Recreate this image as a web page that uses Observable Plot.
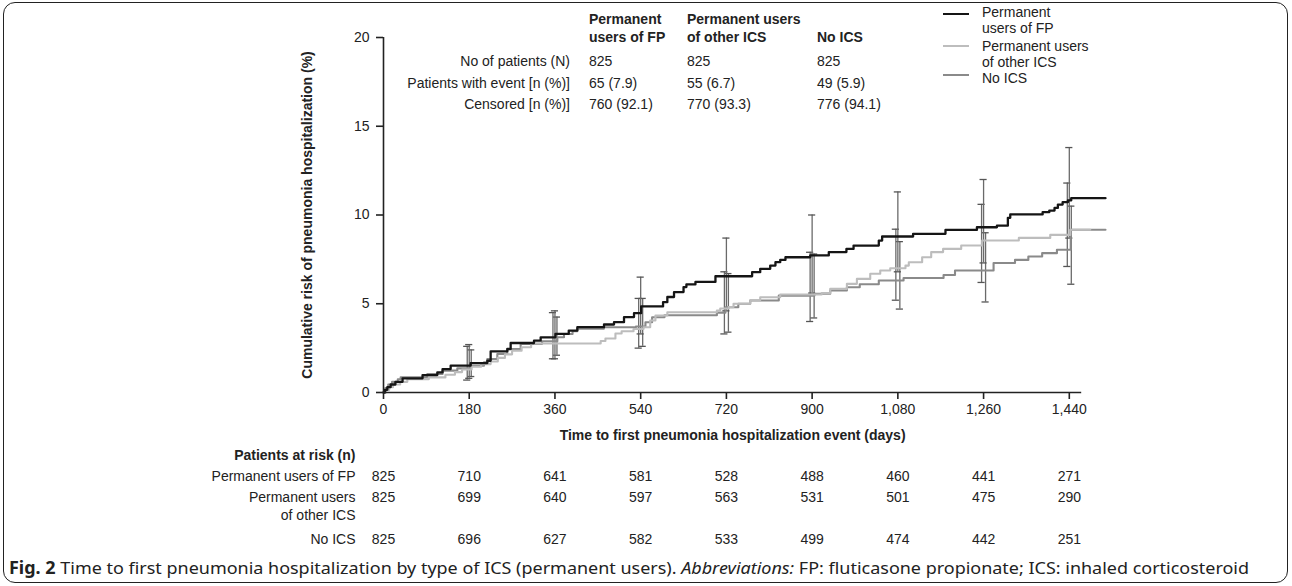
<!DOCTYPE html>
<html><head><meta charset="utf-8">
<script src="https://cdn.jsdelivr.net/npm/d3@7"></script>
<script src="https://cdn.jsdelivr.net/npm/@observablehq/plot@0.6"></script>
<style>
body{margin:0;background:#fff;font-family:"Liberation Sans",Arial,sans-serif;color:#222;}
#wrap{position:relative;width:1292px;height:586px;overflow:hidden;background:#fff;}
#frame{position:absolute;left:3px;top:2px;width:1285px;height:581px;border:1.6px solid #222;border-radius:12px;box-sizing:border-box;}
#chart{position:absolute;left:0;top:0;}
.abs{position:absolute;white-space:nowrap;font-size:14px;line-height:18px;}
.b{font-weight:bold;}
#cap{position:absolute;left:9px;top:556px;font-family:"Noto Sans",sans-serif;font-size:17px;white-space:nowrap;transform-origin:0 0;color:#222;}
.sw{position:absolute;height:0;border-top:2px solid #000;width:26px;}
</style></head><body>
<div id="wrap">
<div id="frame"></div>
<div id="chart"></div>
<div id="toptable"></div>
<div id="legend"></div>
<div id="cap"><b>Fig. 2</b> Time to first pneumonia hospitalization by type of ICS (permanent users). <i>Abbreviations:</i> FP: fluticasone propionate; ICS: inhaled corticosteroid</div>
</div>
<script>
// ---------- data ----------
const groups = ["Permanent users of FP", "Permanent users of other ICS", "No ICS"];
const colors = ["#151515", "#bdbdbd", "#8a8a8a"];
const xTicks = [0, 180, 360, 540, 720, 900, 1080, 1260, 1440];
const yTicks = [0, 5, 10, 15, 20];
const axisEnd = 1466;
const xMax = 1516;

// cumulative risk (%) step points: day of step, value after step
const fpDays = [0,3,8,15,25,40,82,113,124,141,183,218,225,260,267,316,330,361,389,407,463,484,505,526,541,587,596,610,630,636,655,697,774,791,812,823,833,844,896,935,972,987,1040,1047,1112,1180,1246,1288,1311,1316,1384,1398,1409,1416,1426,1437,1444,1516];
const fpRisk = [0,0.15,0.3,0.45,0.6,0.8,0.98,1.13,1.32,1.51,1.66,1.79,2.32,2.45,2.79,2.92,3.11,3.30,3.49,3.68,3.83,3.96,4.25,4.47,4.85,5.09,5.38,5.66,5.94,6.09,6.23,6.55,6.78,6.97,7.15,7.34,7.47,7.62,7.72,7.91,8.09,8.28,8.56,8.79,8.94,9.16,9.31,9.40,9.84,10.03,10.16,10.25,10.40,10.59,10.72,10.82,10.95,10.95];

const otherDays = [0,5,12,20,35,50,95,130,150,165,185,205,225,240,255,270,290,310,456,466,487,500,525,546,560,571,596,700,707,725,735,770,791,833,920,938,973,994,1022,1043,1064,1096,1103,1131,1150,1175,1213,1257,1334,1400,1442,1484];
const otherRisk = [0,0.15,0.3,0.45,0.6,0.75,0.85,1.0,1.15,1.3,1.45,1.6,1.75,1.95,2.15,2.35,2.55,2.76,2.9,3.04,3.32,3.45,3.58,3.68,4.06,4.34,4.52,4.62,4.73,4.81,5.0,5.2,5.37,5.52,5.6,5.84,6.12,6.4,6.69,6.87,7.0,7.15,7.34,7.62,7.91,8.09,8.28,8.56,8.71,8.88,9.17,9.17];

const noDays = [0,4,10,18,30,36,92,124,155,183,211,218,239,260,288,333,365,379,397,407,463,530,550,564,590,700,718,745,770,830,905,938,973,1000,1040,1092,1176,1200,1281,1326,1354,1383,1414,1443,1516];
const noRisk = [0,0.25,0.45,0.6,0.75,0.85,1.04,1.23,1.36,1.51,1.70,1.89,2.17,2.45,2.74,2.89,3.11,3.30,3.45,3.60,3.68,3.72,3.96,4.24,4.35,4.5,4.8,5.0,5.18,5.46,5.56,5.75,5.93,6.1,6.31,6.45,6.62,6.87,7.3,7.47,7.66,7.85,8.04,9.17,9.17];

// 95% CI error bars at each 180-day mark
const ciDays = [180, 360, 540, 720, 900, 1080, 1260, 1440];
const fpLo = [0.8, 1.9, 3.3, 4.6, 5.6, 6.8, 7.3, 8.7];
const fpHi = [2.7, 4.6, 6.5, 8.7, 10.0, 11.3, 12.0, 13.8];
const otherLo = [0.7, 1.9, 2.5, 3.3, 4.0, 5.2, 6.2, 7.1];
const otherHi = [2.6, 4.5, 5.3, 6.8, 7.9, 9.2, 10.6, 11.8];
const noLo = [0.9, 2.1, 2.6, 3.4, 4.2, 4.7, 5.1, 6.1];
const noHi = [2.4, 4.25, 5.3, 6.7, 7.8, 8.5, 9.0, 10.5];

// patients at risk
const fpAtRisk = [825, 710, 641, 581, 528, 488, 460, 441, 271];
const otherAtRisk = [825, 699, 640, 597, 563, 531, 501, 475, 290];
const noAtRisk = [825, 696, 627, 582, 533, 499, 474, 442, 251];
const riskLabels = [["Permanent users of FP"], ["Permanent users", "of other ICS"], ["No ICS"]];

// summary table
const tableHeads = [["Permanent", "users of FP"], ["Permanent users", "of other ICS"], ["", "No ICS"]];
const tableRowLabels = ["No of patients (N)", "Patients with event [n (%)]", "Censored [n (%)]"];
const nPatients = [825, 825, 825];
const eventN = [65, 55, 49];
const eventPct = [7.9, 6.7, 5.9];
const censN = [760, 770, 776];
const censPct = [92.1, 93.3, 94.1];
const legendLabels = [["Permanent", "users of FP"], ["Permanent users", "of other ICS"], ["No ICS"]];

const yTitle = "Cumulative risk of pneumonia hospitalization (%)";
const xTitle = "Time to first pneumonia hospitalization event (days)";
const riskTitle = "Patients at risk (n)";

// ---------- build ----------
const stepSeries = [[fpDays, fpRisk], [otherDays, otherRisk], [noDays, noRisk]];
const lineRows = stepSeries.map(([d, v], g) => d.map((day, i) => ({day, risk: v[i], g})));
const ciSets = [[fpLo, fpHi], [otherLo, otherHi], [noLo, noHi]];
const ciRows = ciSets.map(([lo, hi], g) => ciDays.map((day, i) => ({day, lo: lo[i], hi: hi[i], g})));
const riskSets = [fpAtRisk, otherAtRisk, noAtRisk];
const riskRows = riskSets.map(arr => xTicks.map((day, i) => ({day, n: arr[i]})));
const capHalf = 7.5;
const barDx = [0, -2, 2];
const riskDy = [84, 105, 147];
const riskLineGap = 18;

const W = 1292, H = 550;
const marks = [];
// error bars (behind lines)
[2, 1, 0].forEach(g => {
  marks.push(Plot.ruleX(ciRows[g], {x: "day", y1: "lo", y2: "hi", stroke: "#6a6a6a", strokeWidth: 1.3, dx: barDx[g]}));
  marks.push(Plot.ruleY(ciRows[g], {y: "lo", x1: d => d.day - capHalf, x2: d => d.day + capHalf, stroke: "#555", strokeWidth: 1.3, dx: barDx[g]}));
  marks.push(Plot.ruleY(ciRows[g], {y: "hi", x1: d => d.day - capHalf, x2: d => d.day + capHalf, stroke: "#555", strokeWidth: 1.3, dx: barDx[g]}));
});
// curves
[2, 1, 0].forEach(g => {
  marks.push(Plot.line(lineRows[g], {x: "day", y: "risk", curve: "step-after", stroke: colors[g], strokeWidth: g === 0 ? 2.3 : 2.1}));
});
// axes
marks.push(Plot.ruleY([0], {x1: 0, x2: axisEnd, stroke: "#222", strokeWidth: 1.6}));
marks.push(Plot.ruleX([0], {y1: 0, y2: 20, stroke: "#222", strokeWidth: 1.6}));
marks.push(Plot.axisX(xTicks, {tickSize: 7, tickPadding: 5, tickFormat: d3.format(","), label: null, stroke: "#222", strokeWidth: 1.6, fontSize: 14, fill: "#222"}));
marks.push(Plot.axisY(yTicks, {tickSize: 7, tickPadding: 7, label: null, stroke: "#222", strokeWidth: 1.6, fontSize: 14, fill: "#222"}));
// titles
marks.push(Plot.text([xTitle], {x: axisEnd / 2, y: 0, dy: 43, text: d => d, fontWeight: "bold", fontSize: 14, fill: "#222"}));
marks.push(Plot.text([yTitle], {x: 0, y: 10, dx: -76, rotate: -90, text: d => d, fontWeight: "bold", fontSize: 14, fill: "#222"}));
// at-risk table
marks.push(Plot.text([riskTitle], {x: 0, y: 0, dx: -28, dy: 63, text: d => d, textAnchor: "end", fontWeight: "bold", fontSize: 14, fill: "#222"}));
riskRows.forEach((rows, g) => {
  marks.push(Plot.text(rows, {x: "day", y: 0, dy: riskDy[g], text: d => String(d.n), fontSize: 14, fill: "#222"}));
  riskLabels[g].forEach((line, k) => {
    marks.push(Plot.text([line], {x: 0, y: 0, dx: -28, dy: riskDy[g] + k * riskLineGap, text: d => d, textAnchor: "end", fontSize: 14, fill: "#222"}));
  });
});

const chart = Plot.plot({
  width: W, height: H,
  marginLeft: 383, marginRight: W - 1105, marginTop: 37, marginBottom: H - 392,
  x: {domain: [0, xMax]},
  y: {domain: [0, 20]},
  style: {fontFamily: "'Liberation Sans', Arial, sans-serif", fontSize: "14px", color: "#222", background: "transparent"},
  marks
});
document.getElementById("chart").appendChild(chart);

// ---------- summary table (HTML) ----------
const tt = document.getElementById("toptable");
const colX = [589, 687, 817];
const headY = [19, 37];
const rowY = [61, 83, 104];
function put(parent, txt, x, y, cls, anchorEnd) {
  const d = document.createElement("div");
  d.className = "abs " + (cls || "");
  d.textContent = txt;
  d.style.top = (y - 9) + "px";
  if (anchorEnd) { d.style.right = (1292 - x) + "px"; d.style.textAlign = "right"; }
  else d.style.left = x + "px";
  parent.appendChild(d);
}
tableHeads.forEach((h, c) => h.forEach((line, k) => { if (line) put(tt, line, colX[c], headY[k], "b"); }));
tableRowLabels.forEach((lab, r) => put(tt, lab, 570, rowY[r], "", true));
const cellText = [
  nPatients.map(String),
  eventN.map((n, i) => `${n} (${eventPct[i].toFixed(1)})`),
  censN.map((n, i) => `${n} (${censPct[i].toFixed(1)})`)
];
cellText.forEach((row, r) => row.forEach((t, c) => put(tt, t, colX[c], rowY[r])));

// ---------- legend ----------
const lg = document.getElementById("legend");
const legY = [[12, 28], [46, 62], [78]];
const swY = [13, 45, 74];
legendLabels.forEach((lines, g) => {
  const sw = document.createElement("div");
  sw.className = "sw";
  sw.style.left = "943px";
  sw.style.top = swY[g] + "px";
  sw.style.borderTopColor = colors[g];
  lg.appendChild(sw);
  lines.forEach((line, k) => put(lg, line, 982, legY[g][k]));
});

// ---------- caption fit ----------
const cap = document.getElementById("cap");
const w = cap.getBoundingClientRect().width;
cap.style.transform = `scaleX(${1240 / w})`;
</script>
</body></html>
